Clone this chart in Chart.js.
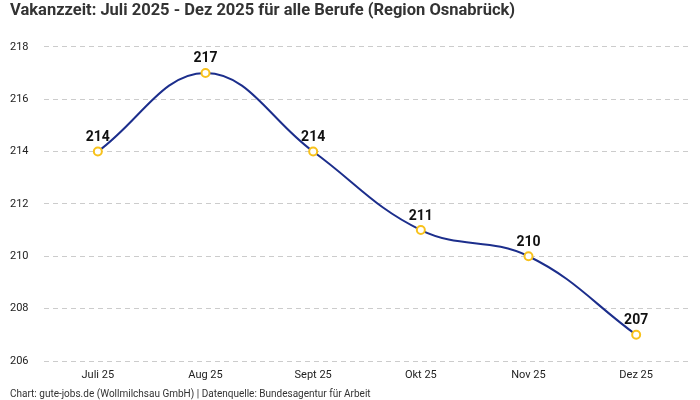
<!DOCTYPE html>
<html>
<head>
<meta charset="utf-8">
<script src="https://cdn.jsdelivr.net/npm/chart.js@4/dist/chart.umd.min.js"></script>
<style>
html,body{margin:0;padding:0;background:#fff;}
#wrap{width:700px;height:400px;}
</style>
</head>
<body>
<div id="wrap"><canvas id="c"></canvas></div>
<script>
const categories = ["Juli 25", "Aug 25", "Sept 25", "Okt 25", "Nov 25", "Dez 25"];
const values = [214, 217, 214, 211, 210, 207];
const titleText = "Vakanzzeit: Juli 2025 - Dez 2025 für alle Berufe (Region Osnabrück)";
const footerText = "Chart: gute-jobs.de (Wollmilchsau GmbH) | Datenquelle: Bundesagentur für Arbeit";

const FONT = "Roboto, 'Noto Sans', sans-serif";

const labelPlugin = {
  id: 'pointLabels',
  afterDatasetsDraw(chart) {
    const ctx = chart.ctx;
    const meta = chart.getDatasetMeta(0);
    ctx.save();
    ctx.font = "bold 14px " + FONT;
    ctx.fillStyle = "#111";
    ctx.textAlign = "center";
    ctx.textBaseline = "bottom";
    meta.data.forEach((pt, i) => {
      ctx.fillText(String(values[i]), pt.x, pt.y - 7);
    });
    ctx.restore();
  }
};

new Chart(document.getElementById('c'), {
  type: 'line',
  data: {
    labels: categories,
    datasets: [{
      data: values,
      borderColor: '#1c2e8c',
      borderWidth: 2,
      tension: 0.4,
      pointRadius: 4,
      pointHoverRadius: 4,
      pointBorderWidth: 2,
      pointBorderColor: '#f8c21c',
      pointBackgroundColor: '#ffffff',
      fill: false
    }]
  },
  options: {
    responsive: true,
    maintainAspectRatio: false,
    animation: false,
    layout: { padding: { left: 10, right: 10, top: 0, bottom: 0 } },
    plugins: {
      legend: { display: false },
      tooltip: { enabled: false },
      title: {
        display: true,
        text: titleText,
        align: 'start',
        color: '#333',
        font: { family: FONT, size: 16.5, weight: 'bold' },
        padding: { top: 1, bottom: 26 }
      },
      subtitle: {
        display: true,
        text: footerText,
        position: 'bottom',
        align: 'start',
        color: '#333',
        font: { family: FONT, size: 10 },
        padding: { top: 0, bottom: 0 }
      }
    },
    scales: {
      x: {
        offset: true,
        grid: { display: false, drawTicks: false },
        border: { display: false },
        ticks: { color: '#222', font: { family: FONT, size: 11 }, padding: 8 },
        afterFit(axis) { axis.height = 27; }
      },
      y: {
        min: 206,
        max: 218,
        grid: { color: '#cccccc', drawTicks: false },
        border: { display: false, dash: [5, 4] },
        ticks: {
          stepSize: 2,
          color: '#222',
          font: { family: FONT, size: 11 },
          padding: 2,
          crossAlign: 'far'
        },
        afterFit(axis) { axis.width = 34; }
      }
    }
  },
  plugins: [labelPlugin]
});
</script>
</body>
</html>
